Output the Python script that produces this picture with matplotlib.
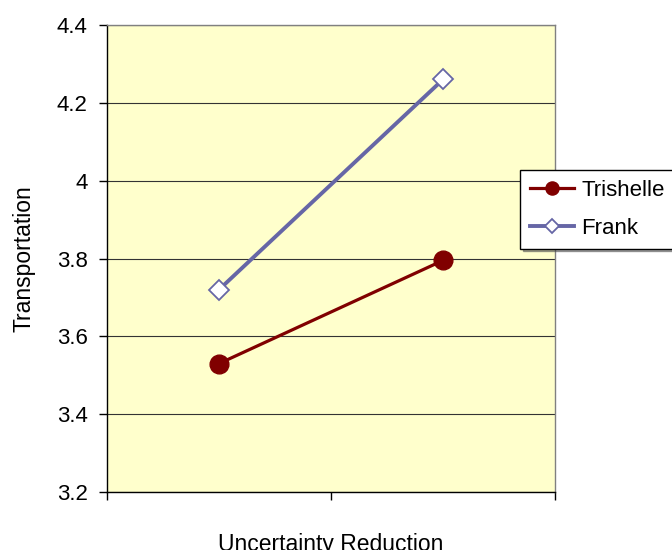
import numpy as np
import matplotlib.pyplot as plt

plt.rcParams['font.family'] = ['Liberation Sans', 'DejaVu Sans']

# Data
categories = ['', '']
trishelle = [3.53, 3.795]
frank = [3.72, 4.26]
yticks = [3.2, 3.4, 3.6, 3.8, 4.0, 4.2, 4.4]
ytick_labels = ['3.2', '3.4', '3.6', '3.8', '4', '4.2', '4.4']

fig = plt.figure(figsize=(6.72, 5.5), dpi=100)
ax = fig.add_axes([107 / 672, 1 - 492 / 550, 448 / 672, 467 / 550])
ax.set_facecolor('#FFFFCC')

x = np.arange(len(categories))
ax.plot(x, trishelle, color='#800000', linewidth=2.3, marker='o',
        markersize=13.5, markerfacecolor='#800000', markeredgecolor='#800000',
        label='Trishelle', zorder=3)
ax.plot(x, frank, color='#6666A6', linewidth=2.8, marker='D',
        markersize=10, markerfacecolor='white', markeredgecolor='#6666A6',
        markeredgewidth=1.3, label='Frank', zorder=3)

ax.set_xlim(-0.5, 1.5)
ax.set_ylim(3.2, 4.4)
ax.set_yticks(yticks)
ax.set_yticklabels(ytick_labels, fontsize=16)
ax.set_xticks([-0.5, 0.5, 1.5])
ax.set_xticklabels(['', '', ''])
ax.tick_params(axis='both', direction='out', length=6, width=1, color='black')
ax.tick_params(axis='y', pad=8)
ax.yaxis.grid(True, color='#333333', linewidth=0.8)
ax.set_axisbelow(True)

for side in ['top', 'right']:
    ax.spines[side].set_color('#808080')
    ax.spines[side].set_linewidth(1)
for side in ['left', 'bottom']:
    ax.spines[side].set_color('black')
    ax.spines[side].set_linewidth(1)

ax.set_ylabel('Transportation', fontsize=16.5, labelpad=15)
ax.set_xlabel('Uncertainty Reduction', fontsize=16.5, labelpad=20)

leg = fig.legend(loc='upper left', bbox_to_anchor=(520 / 672, 1 - 170 / 550),
                 fontsize=16, frameon=True, fancybox=False, shadow=True,
                 handlelength=2.0, borderpad=0.45, labelspacing=0.75,
                 handletextpad=0.3, borderaxespad=0, markerscale=0.7)
leg.get_frame().set_edgecolor('black')
leg.get_frame().set_linewidth(1)

fig.savefig('out.png', dpi=100)
